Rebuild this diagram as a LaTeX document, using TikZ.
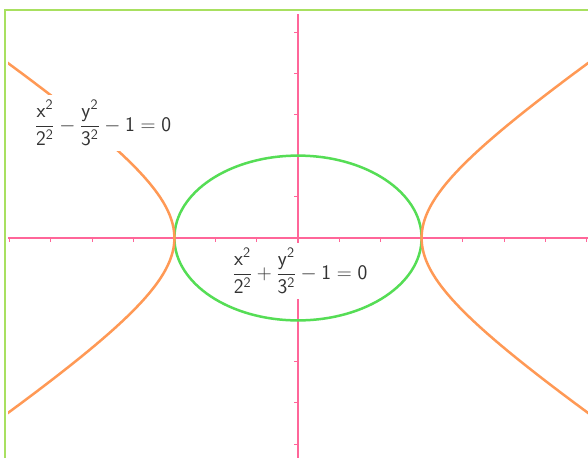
\documentclass[tikz,border=0pt]{standalone}
\usepackage{amsmath}
\definecolor{framegreen}{HTML}{A8E060}
\definecolor{axispink}{HTML}{FF6699}
\definecolor{curveorange}{HTML}{FF9955}
\definecolor{curvegreen}{HTML}{55DD55}
\definecolor{textgray}{HTML}{333333}
\newcommand{\sv}[1]{\mathsf{#1}}
\begin{document}
\begin{tikzpicture}[x=1pt,y=-1pt,
  frameline/.style={draw=framegreen,line width=2pt},
  axisline/.style={draw=axispink,line width=1.2pt},
  tickline/.style={draw=axispink,line width=0.8pt},
  hyper/.style={draw=curveorange,line width=2.5pt},
  ellip/.style={draw=curvegreen,line width=2.5pt},
  eqlabel/.style={fill=white,text=textgray,inner xsep=4pt,inner ysep=5pt,font=\fontsize{21}{25}\selectfont}]
\useasboundingbox (0,0) rectangle (588,458);
\fill[white] (0,0) rectangle (588,458);
% frame
\draw[frameline] (4.5,458) -- (4.5,10) -- (588,10);
% axes
\coordinate (O) at (298,238);
\coordinate (xl) at (8,238);
\coordinate (xr) at (588,238);
\coordinate (yt) at (298,14);
\coordinate (yb) at (298,458);
\draw[axisline] (xl) -- (xr);
\draw[axisline] (yt) -- (yb);
\foreach \k in {-7,...,7} {
  \draw[tickline] ({298+41.2*\k},238) -- ++(0,4);
}
\foreach \k in {-5,...,5} {
  \draw[tickline] (298,{238-41.2*\k}) -- ++(-4,0);
}
% curves
\begin{scope}
\clip (8,14) rectangle (588,458);
\draw[ellip] (O) ellipse [x radius=123.6, y radius=82.4];
\draw[hyper,domain=-1.62:1.62,samples=120,variable=\t] plot ({298+123.6*cosh(\t)},{238-82.4*sinh(\t)});
\draw[hyper,domain=-1.62:1.62,samples=120,variable=\t] plot ({298-123.6*cosh(\t)},{238-82.4*sinh(\t)});
\end{scope}
% labels
\node[eqlabel] (hlab) at (103,123) {$\dfrac{\sv{x}^{\sv{2}}}{\sv{2}^{\sv{2}}}-\dfrac{\sv{y}^{\sv{2}}}{\sv{3}^{\sv{2}}}-\sv{1}=\sv{0}$};
\node[eqlabel] (elab) at (300,271) {$\dfrac{\sv{x}^{\sv{2}}}{\sv{2}^{\sv{2}}}+\dfrac{\sv{y}^{\sv{2}}}{\sv{3}^{\sv{2}}}-\sv{1}=\sv{0}$};
\end{tikzpicture}
\end{document}
